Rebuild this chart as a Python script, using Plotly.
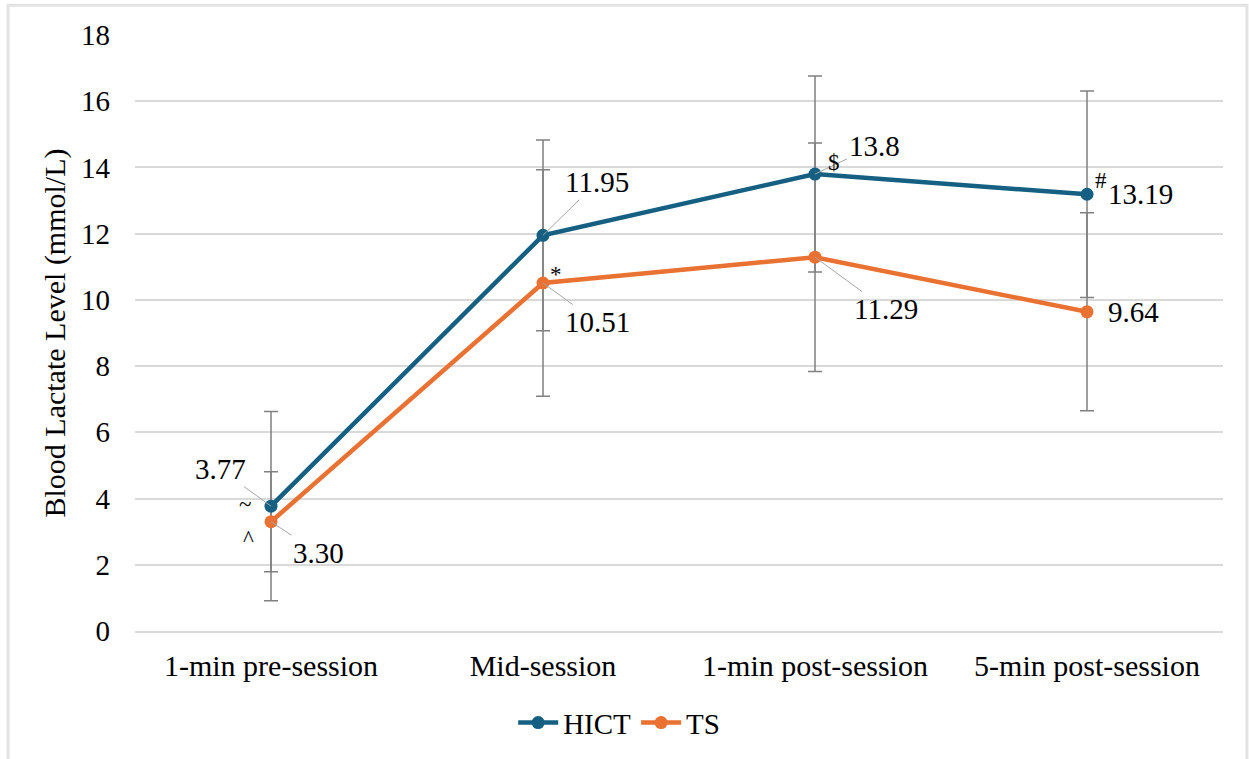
import plotly.graph_objects as go

categories = ["1-min pre-session", "Mid-session", "1-min post-session", "5-min post-session"]
hict = [3.77, 11.95, 13.80, 13.19]
hict_sd = [2.86, 2.88, 2.96, 3.12]
ts = [3.30, 10.51, 11.29, 9.64]
ts_sd = [1.51, 3.42, 3.45, 2.99]
hict_labels = ["3.77", "11.95", "13.8", "13.19"]
ts_labels = ["3.30", "10.51", "11.29", "9.64"]
# significance markers: (series, category index, symbol)
sig_marks = [("HICT", 0, "~"), ("TS", 0, "^"), ("TS", 1, "*"), ("HICT", 2, "$"), ("HICT", 3, "#")]

FONT = "Liberation Serif, Times New Roman, serif"
BLUE = "#156082"
ORANGE = "#E97132"
GREY = "#808080"
FS = 29

fig = go.Figure()
# error bars first (beneath the lines and markers)
for vals, sds in [(hict, hict_sd), (ts, ts_sd)]:
    fig.add_trace(go.Scatter(
        x=categories, y=vals, mode="markers", showlegend=False, hoverinfo="skip",
        marker=dict(size=1, opacity=0),
        error_y=dict(type="data", array=sds, visible=True, color=GREY, thickness=1.5, width=7),
    ))
fig.add_trace(go.Scatter(
    x=categories, y=hict, name="HICT", mode="lines+markers",
    line=dict(color=BLUE, width=4.5), marker=dict(size=13, color=BLUE),
))
fig.add_trace(go.Scatter(
    x=categories, y=ts, name="TS", mode="lines+markers",
    line=dict(color=ORANGE, width=4.5), marker=dict(size=13, color=ORANGE),
))

# data labels with leader lines (offsets in pixels)
hict_off = [(-51, -37, True), (54, -53, True), (59, -28, True), (53, 0, False)]
ts_off = [(47, 31, True), (54, 39, True), (71, 52, True), (46, 0, False)]
for vals, labs, offs in [(hict, hict_labels, hict_off), (ts, ts_labels, ts_off)]:
    for cat, v, lab, (ax, ay, arrow) in zip(categories, vals, labs, offs):
        if arrow:
            fig.add_annotation(x=cat, y=v, text=lab, showarrow=True, arrowhead=0,
                               arrowwidth=1, arrowcolor="#a6a6a6", ax=ax, ay=ay, standoff=0,
                               font=dict(family=FONT, size=FS, color="black"))
        else:
            fig.add_annotation(x=cat, y=v, text=lab, showarrow=False, xshift=ax, yshift=-ay,
                               font=dict(family=FONT, size=FS, color="black"))

sym_off = {"~": (-26, 2), "^": (-23, -17), "*": (13, 9), "$": (19, 12), "#": (14, 14)}
for series, idx, sym in sig_marks:
    v = hict[idx] if series == "HICT" else ts[idx]
    dx, dy = sym_off[sym]
    fig.add_annotation(x=categories[idx], y=v, text=sym, showarrow=False, xshift=dx, yshift=dy,
                       font=dict(family=FONT, size=23, color="black"))

# outer chart border
fig.add_shape(type="rect", xref="paper", yref="paper", x0=-0.1167, x1=1.022, y0=-0.25, y1=1.050,
              line=dict(color="#e3e3e3", width=3), fillcolor="rgba(0,0,0,0)", layer="below")

fig.update_layout(
    width=1249, height=759,
    margin=dict(l=135, r=26, t=35, b=127),
    paper_bgcolor="white", plot_bgcolor="white",
    font=dict(family=FONT, size=FS, color="black"),
    showlegend=True,
    legend=dict(orientation="h", x=0.445, xanchor="center", y=-0.152, yanchor="middle",
                font=dict(family=FONT, size=FS, color="black"), itemwidth=40),
)
fig.update_xaxes(range=[-0.5, 3.5], showgrid=False, showline=True, linecolor="#d9d9d9", linewidth=1.5,
                 ticks="", ticklabelstandoff=7, tickfont=dict(size=30))
fig.update_yaxes(range=[0, 18], dtick=2, showgrid=True, gridcolor="#d9d9d9", gridwidth=1.5,
                 zeroline=False, ticks="", ticklabelstandoff=24, tickfont=dict(size=FS),
                 title=dict(text="Blood Lactate Level (mmol/L)", standoff=6, font=dict(size=30)))

fig.write_html("out.html")
